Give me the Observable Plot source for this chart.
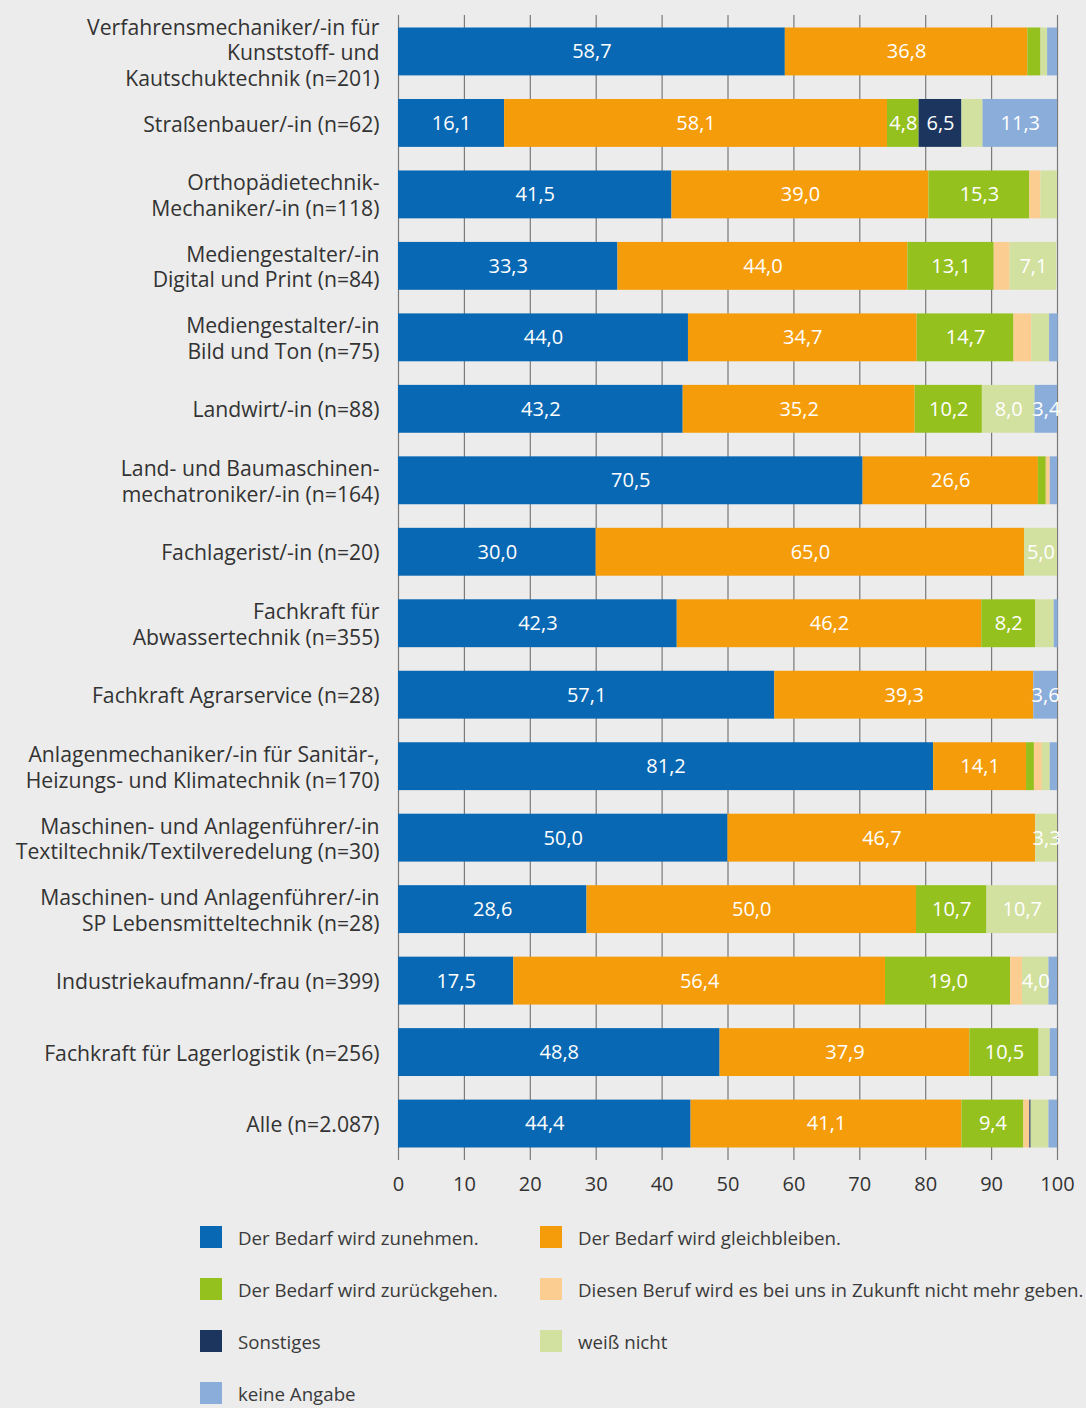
<!DOCTYPE html>
<html>
<head>
<meta charset="utf-8">
<script src="https://cdn.jsdelivr.net/npm/d3@7"></script>
<script src="https://cdn.jsdelivr.net/npm/@observablehq/plot@0.6"></script>
<style>
  html, body { margin: 0; padding: 0; background: #ececec; }
  body { font-family: "Open Sans", sans-serif; width: 1086px; height: 1408px; overflow: hidden; }
  #legend { display: grid; grid-template-columns: 340px auto; grid-auto-rows: 52px; padding-left: 200px; margin-top: 8px; }
  .item { display: flex; align-items: center; font-size: 18.7px; color: #3a3a3a; white-space: nowrap; }
  .sw { width: 22px; height: 22px; margin-right: 16px; flex: none; }
</style>
</head>
<body>
<div id="chart"></div>
<div id="legend"></div>
<script>
const categories = [
  "Verfahrensmechaniker/-in für\nKunststoff- und\nKautschuktechnik (n=201)",
  "Straßenbauer/-in (n=62)",
  "Orthopädietechnik-\nMechaniker/-in (n=118)",
  "Mediengestalter/-in\nDigital und Print (n=84)",
  "Mediengestalter/-in\nBild und Ton (n=75)",
  "Landwirt/-in (n=88)",
  "Land- und Baumaschinen-\nmechatroniker/-in (n=164)",
  "Fachlagerist/-in (n=20)",
  "Fachkraft für\nAbwassertechnik (n=355)",
  "Fachkraft Agrarservice (n=28)",
  "Anlagenmechaniker/-in für Sanitär-,\nHeizungs- und Klimatechnik (n=170)",
  "Maschinen- und Anlagenführer/-in\nTextiltechnik/Textilveredelung (n=30)",
  "Maschinen- und Anlagenführer/-in\nSP Lebensmitteltechnik (n=28)",
  "Industriekaufmann/-frau (n=399)",
  "Fachkraft für Lagerlogistik (n=256)",
  "Alle (n=2.087)"
];
const seriesNames = [
  "Der Bedarf wird zunehmen.",
  "Der Bedarf wird gleichbleiben.",
  "Der Bedarf wird zurückgehen.",
  "Diesen Beruf wird es bei uns in Zukunft nicht mehr geben.",
  "Sonstiges",
  "weiß nicht",
  "keine Angabe"
];
const seriesColors = ["#0868b3", "#f59c0b", "#95c11f", "#fccd91", "#1b355f", "#d2e0a0", "#8badda"];

const zunehmen     = [58.7, 16.1, 41.5, 33.3, 44.0, 43.2, 70.5, 30.0, 42.3, 57.1, 81.2, 50.0, 28.6, 17.5, 48.8, 44.4];
const gleich       = [36.8, 58.1, 39.0, 44.0, 34.7, 35.2, 26.6, 65.0, 46.2, 39.3, 14.1, 46.7, 50.0, 56.4, 37.9, 41.1];
const zurueck      = [2.0, 4.8, 15.3, 13.1, 14.7, 10.2, 1.2, 0, 8.2, 0, 1.2, 0, 10.7, 19.0, 10.5, 9.4];
const nichtMehr    = [0, 0, 1.7, 2.4, 2.7, 0, 0.6, 0, 0, 0, 1.2, 0, 0, 1.8, 0, 0.9];
const sonstiges    = [0, 6.5, 0, 0, 0, 0, 0, 0, 0, 0, 0, 0, 0, 0, 0, 0.2];
const weissNicht   = [1.0, 3.2, 2.5, 7.1, 2.7, 8.0, 0, 5.0, 2.8, 0, 1.2, 3.3, 10.7, 4.0, 1.7, 2.7];
const keineAngabe  = [1.5, 11.3, 0, 0, 1.3, 3.4, 1.1, 0, 0.6, 3.6, 1.1, 0, 0, 1.3, 1.1, 1.3];
const xTicks = [0, 10, 20, 30, 40, 50, 60, 70, 80, 90, 100];

const seriesValues = [zunehmen, gleich, zurueck, nichtMehr, sonstiges, weissNicht, keineAngabe];
const data = [];
categories.forEach((c, i) => {
  seriesValues.forEach((vals, s) => {
    data.push({cat: c, series: seriesNames[s], order: s, value: vals[i]});
  });
});
const fmt = v => v.toFixed(1).replace(".", ",");

const chart = Plot.plot({
  width: 1086,
  height: 1203,
  marginLeft: 398,
  marginRight: 29,
  marginTop: 15,
  marginBottom: 43,
  style: {background: "transparent", fontFamily: "'Open Sans', sans-serif"},
  x: {domain: [0, 100], axis: null, label: null},
  y: {domain: categories, paddingInner: 0.33, paddingOuter: 0.175, round: false, axis: null},
  color: {domain: seriesNames, range: seriesColors},
  marks: [
    Plot.ruleX(xTicks, {stroke: "#7a7a7a", strokeWidth: 1.2}),
    Plot.barX(data, Plot.stackX({x: "value", y: "cat", z: "order", order: "order", fill: "series"})),
    Plot.text(data, Plot.stackX({x: "value", y: "cat", z: "order", order: "order",
      text: d => d.value >= 3.3 ? fmt(d.value) : "", fill: "white", fontSize: 20})),
    Plot.text(categories, {x: () => 0, y: d => d, text: d => d, textAnchor: "end", dx: -19,
      fontSize: 21.2, lineHeight: 1.2, fill: "#333"}),
    Plot.axisX(xTicks, {tickSize: 0, tickPadding: 16, fontSize: 20, color: "#333", label: null, tickFormat: d => String(d)})
  ]
});
document.getElementById("chart").append(chart);

const legend = document.getElementById("legend");
seriesNames.forEach((n, i) => {
  const it = document.createElement("div");
  it.className = "item";
  const sw = document.createElement("span");
  sw.className = "sw";
  sw.style.background = seriesColors[i];
  it.append(sw, document.createTextNode(n));
  legend.append(it);
});
</script>
</body>
</html>
